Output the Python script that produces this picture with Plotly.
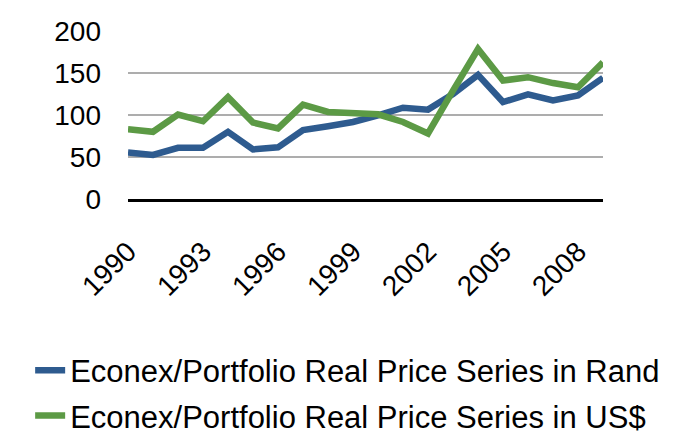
import plotly.graph_objects as go

years = list(range(1990, 2010))
rand_series = [55.5, 52.4, 61, 61, 80, 59, 61.5, 82, 86.6, 91.7, 99.6,
               108.7, 106.4, 125, 147.8, 115.4, 124.5, 117.4, 123.3, 144.2]
usd_series = [83, 80, 100.5, 92.6, 121.3, 91, 84, 112.3, 103.6, 101.7, 100.8,
              91.7, 78, 129, 178.5, 141, 145, 138, 133, 162.6]
x_tick_vals = [1990, 1993, 1996, 1999, 2002, 2005, 2008]
x_tick_text = ["1990", "1993", "1996", "1999", "2002", "2005", "2008"]
y_tick_vals = [0, 50, 100, 150, 200]
series_names = ["Econex/Portfolio Real Price Series in Rand",
                "Econex/Portfolio Real Price Series in US$"]

FONT = "Arial, Liberation Sans, sans-serif"

fig = go.Figure()
fig.add_trace(go.Scatter(x=years, y=rand_series, mode="lines", name=series_names[0],
                         legendgroup="rand",
                         line=dict(color="#2E5B8F", width=6.5, shape="linear")))
fig.add_trace(go.Scatter(x=years, y=usd_series, mode="lines", name=series_names[1],
                         legendgroup="usd",
                         line=dict(color="#5C9A45", width=6.5, shape="linear")))

fig.update_layout(
    width=677, height=436,
    margin=dict(l=128, r=74, t=31, b=237, autoexpand=False),
    paper_bgcolor="white", plot_bgcolor="white",
    font=dict(family=FONT, color="black"),
    showlegend=True,
    legend=dict(x=-0.206, xanchor="left", y=-0.861, yanchor="top",
                orientation="v", font=dict(size=31, family=FONT, color="black"),
                bgcolor="rgba(0,0,0,0)", borderwidth=0, tracegroupgap=2),
    xaxis=dict(range=[1990, 2009], tickmode="array", tickvals=x_tick_vals,
               ticktext=x_tick_text, tickangle=-45, showgrid=False,
               zeroline=False, showline=True, linecolor="black", linewidth=3,
               ticks="", tickfont=dict(size=28, family=FONT, color="black"),
               ticklabelstandoff=22),
    yaxis=dict(range=[0, 200], tickmode="array", tickvals=y_tick_vals,
               showgrid=True, gridcolor="#ADADAD", gridwidth=2,
               zeroline=False, showline=False, ticks="",
               tickfont=dict(size=28, family=FONT, color="black"),
               ticklabelstandoff=26),
)

fig.write_html("out.html", config={"displayModeBar": False},
               post_script="document.body.style.margin='0';document.body.style.overflow='hidden';")
